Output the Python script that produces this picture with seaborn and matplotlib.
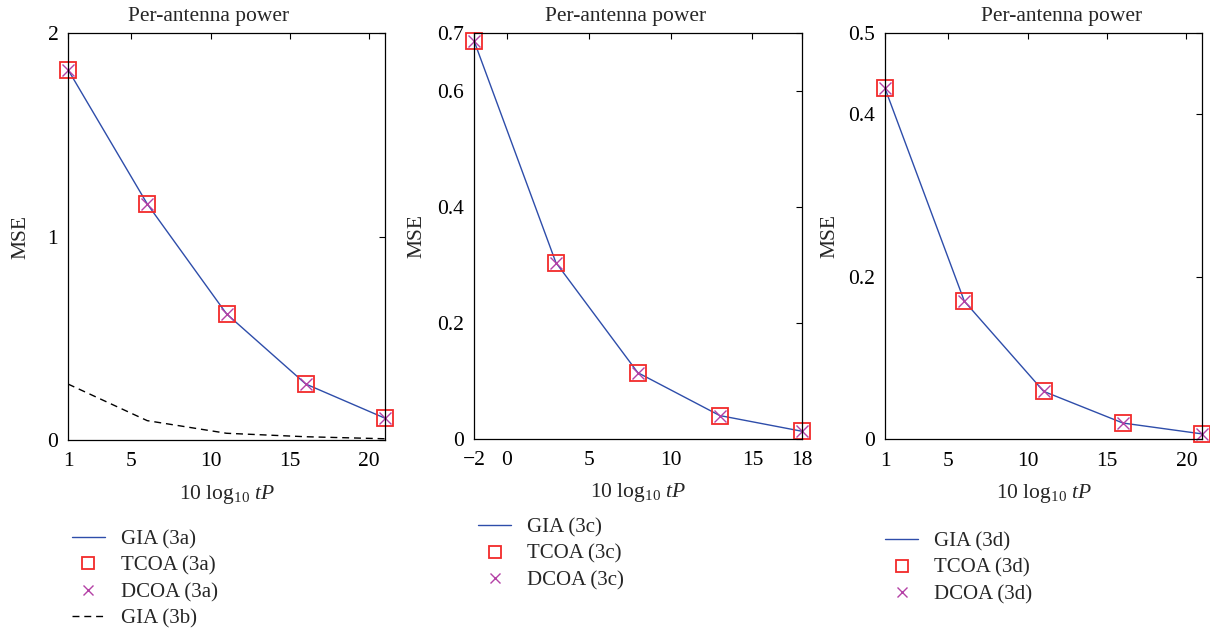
import numpy as np
import pandas as pd
import matplotlib
matplotlib.use("Agg")
import matplotlib.pyplot as plt
import seaborn as sns

# ---- data ----
x_a = [1, 6, 11, 16, 21]
gia_3a = [1.82, 1.16, 0.62, 0.275, 0.107]
tcoa_3a = [1.82, 1.16, 0.62, 0.275, 0.107]
dcoa_3a = [1.82, 1.16, 0.62, 0.275, 0.107]
gia_3b = [0.275, 0.095, 0.033, 0.016, 0.006]

x_c = [-2, 3, 8, 13, 18]
gia_3c = [0.687, 0.304, 0.114, 0.040, 0.013]
tcoa_3c = [0.687, 0.304, 0.114, 0.040, 0.013]
dcoa_3c = [0.687, 0.304, 0.114, 0.040, 0.013]

x_d = [1, 6, 11, 16, 21]
gia_3d = [0.432, 0.170, 0.059, 0.020, 0.0066]
tcoa_3d = [0.432, 0.170, 0.059, 0.020, 0.0066]
dcoa_3d = [0.432, 0.170, 0.059, 0.020, 0.0066]

xticks_a = [1, 5, 10, 15, 20]
xticks_c = [-2, 0, 5, 10, 15, 18]
xticks_d = [1, 5, 10, 15, 20]
yticks_a = [0, 1, 2]
yticks_c = [0, 0.2, 0.4, 0.6, 0.7]
yticks_d = [0, 0.2, 0.4, 0.5]
yticklabels_a = ["0", "1", "2"]
yticklabels_c = ["0", "0.2", "0.4", "0.6", "0.7"]
yticklabels_d = ["0", "0.2", "0.4", "0.5"]
xticklabels_c = ["\u22122", "0", "5", "10", "15", "18"]

title = "Per-antenna power"
ylabel = "MSE"
xlabel = r"10 log$_{10}$ $tP$"

sns.set_style("white")
plt.rcParams["font.family"] = ["Liberation Serif", "DejaVu Serif"]
plt.rcParams["mathtext.fontset"] = "custom"
plt.rcParams["mathtext.rm"] = "Liberation Serif"
plt.rcParams["mathtext.it"] = "Liberation Serif:italic"
plt.rcParams["mathtext.bf"] = "Liberation Serif:bold"

BLUE = "#2E4DAA"
RED = "#F22A2A"
MAG = "#B441A6"
FS = 15.5
LFS = 15

fig = plt.figure(figsize=(12.1, 6.29), dpi=100)
positions = [
    [0.0562, 0.3005, 0.2620, 0.6470],
    [0.3917, 0.3025, 0.2708, 0.6450],
    [0.7314, 0.3016, 0.2622, 0.6459],
]

panels = [
    dict(x=x_a, gia=gia_3a, tcoa=tcoa_3a, dcoa=dcoa_3a, tag="3a", extra=gia_3b,
         xlim=(1, 21), ylim=(0, 2), xt=xticks_a, xtl=[str(v) for v in xticks_a],
         yt=yticks_a, ytl=yticklabels_a, leg=(0.012, -0.22), ylc=-0.12, tx=0.442),
    dict(x=x_c, gia=gia_3c, tcoa=tcoa_3c, dcoa=dcoa_3c, tag="3c", extra=None,
         xlim=(-2, 18), ylim=(0, 0.7), xt=xticks_c, xtl=xticklabels_c,
         yt=yticks_c, ytl=yticklabels_c, leg=(0.012, -0.195), ylc=-0.146, tx=0.463),
    dict(x=x_d, gia=gia_3d, tcoa=tcoa_3d, dcoa=dcoa_3d, tag="3d", extra=None,
         xlim=(1, 21), ylim=(0, 0.5), xt=xticks_d, xtl=[str(v) for v in xticks_d],
         yt=yticks_d, ytl=yticklabels_d, leg=(0.0, -0.228), ylc=-0.145, tx=0.558),
]

for pos, p in zip(positions, panels):
    ax = fig.add_axes(pos)
    sns.lineplot(x=p["x"], y=p["gia"], ax=ax, color=BLUE, lw=1.0,
                 label=f"GIA ({p['tag']})")
    sns.lineplot(x=p["x"], y=p["tcoa"], ax=ax, color=RED, linestyle="none",
                 marker="s", markersize=11, markerfacecolor="none",
                 markeredgecolor=RED, markeredgewidth=1.3, clip_on=False,
                 label=f"TCOA ({p['tag']})")
    sns.lineplot(x=p["x"], y=p["dcoa"], ax=ax, color=MAG, linestyle="none",
                 marker="x", markersize=9, markeredgecolor=MAG, clip_on=False,
                 markeredgewidth=1.0, label=f"DCOA ({p['tag']})")
    if p["extra"] is not None:
        sns.lineplot(x=p["x"], y=p["extra"], ax=ax, color="black", lw=1.0,
                     linestyle=(0, (5, 3.5)), label="GIA (3b)")
    ax.set_xlim(*p["xlim"])
    ax.set_ylim(*p["ylim"])
    ax.set_xticks(p["xt"])
    ax.set_xticklabels(p["xtl"])
    ax.set_yticks(p["yt"])
    ax.set_yticklabels(p["ytl"])
    ax.tick_params(direction="in", length=4, width=0.8, top=True, right=True,
                   labelsize=FS, colors="black")
    ax.tick_params(axis="x", pad=9)
    ax.tick_params(axis="y", pad=7)
    for s in ax.spines.values():
        s.set_visible(True)
        s.set_color("black")
        s.set_linewidth(0.9)
    ax.set_title(title, fontsize=FS, pad=9, x=p["tx"])
    ax.set_ylabel(ylabel, fontsize=FS)
    ax.yaxis.set_label_coords(p["ylc"], 0.5)
    ax.set_xlabel(xlabel, fontsize=FS, labelpad=8)
    ax.legend(loc="upper left", bbox_to_anchor=p["leg"], frameon=False,
              fontsize=LFS, borderaxespad=0, borderpad=0, handlelength=1.6,
              handletextpad=0.75, labelspacing=0.33, markerscale=0.75)

fig.savefig("out.png", dpi=100)
